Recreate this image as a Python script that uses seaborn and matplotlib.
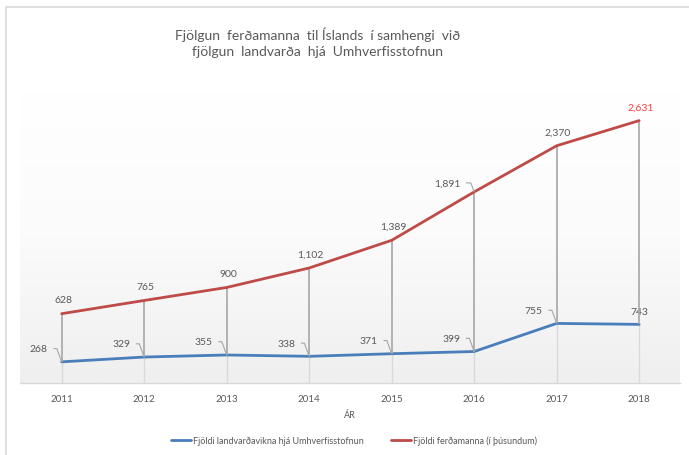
import matplotlib
matplotlib.use("Agg")
import matplotlib.pyplot as plt
import numpy as np
import seaborn as sns
from matplotlib.colors import LinearSegmentedColormap
from matplotlib.lines import Line2D
from matplotlib.patches import Rectangle

sns.set_style("white")
plt.rcParams['font.family'] = ['Lato', 'DejaVu Sans']

# Data
years = ["2011", "2012", "2013", "2014", "2015", "2016", "2017", "2018"]
rangers = [268, 329, 355, 338, 371, 399, 755, 743]            # landvarðavikur
tourists = [628, 765, 900, 1102, 1389, 1891, 2370, 2631]      # í þúsundum

blue_name = "Fjöldi landvarðavikna hjá Umhverfisstofnun"
red_name = "Fjöldi ferðamanna (í þúsundum)"

BLUE = "#4a7ebb"
RED = "#be4b48"
TXT = "#595959"

x = np.arange(len(years))

fig = plt.figure(figsize=(6.89, 4.56), dpi=100)
ax = fig.add_axes([20.4 / 689, 72 / 456, 660 / 689, 292 / 456])
ax2 = ax.twinx()

# gradient plot background
cmap = LinearSegmentedColormap.from_list("bg", ["#ffffff", "#fbfbfb", "#efefef"])
ax.imshow(np.linspace(0, 1, 256)[:, None], extent=[0, 1, 0, 1], transform=ax.transAxes,
          cmap=cmap, aspect="auto", zorder=0)

sns.lineplot(x=x, y=rangers, ax=ax, color=BLUE, lw=2.0, zorder=3)
sns.lineplot(x=x, y=tourists, ax=ax2, color=RED, lw=2.0, zorder=3)

ax.set_xlim(-0.5, len(years) - 0.5)
ax.set_ylim(0, 3700)
ax2.set_ylim(-91, 2938)

# drop lines (axis -> blue) and high-low lines (blue -> red)
ax.vlines(x, 0, rangers, color="#d9d9d9", lw=1.0, zorder=2)
pts = ax.transData.transform(np.column_stack([x, rangers]))
blue_in_red = ax2.transData.inverted().transform(pts)[:, 1]
ax2.vlines(x, blue_in_red, tourists, color="#a6a6a6", lw=1.2, zorder=2)

# axes styling
for a in (ax, ax2):
    for s in a.spines.values():
        s.set_visible(False)
    a.set_yticks([])
    a.set_ylabel("")
ax.spines["bottom"].set_visible(True)
ax.spines["bottom"].set_color("#d9d9d9")
ax.spines["bottom"].set_linewidth(1.0)
ax.set_xticks(x)
ax.set_xticklabels(years)
ax.tick_params(axis="x", length=0, pad=8, labelsize=7, labelcolor=TXT)
ax2.tick_params(axis="x", bottom=False, labelbottom=False)
ax.set_xlabel("ÁR", fontsize=6.5, color=TXT, labelpad=5)

# data labels
leader = dict(arrowstyle="-", color="#a6a6a6", lw=0.8, relpos=(1, 0.5),
              connectionstyle="angle,angleA=0,angleB=110,rad=0", shrinkA=2, shrinkB=0)
for i, v in enumerate(rangers):
    if i == len(rangers) - 1:
        ax.annotate(f"{v:,}", (x[i], v), xytext=(0, 9), textcoords="offset points",
                    ha="center", va="center", fontsize=7.5, color=TXT, zorder=5)
    else:
        ax.annotate(f"{v:,}", (x[i], v), xytext=(-10, 9.5), textcoords="offset points",
                    ha="right", va="center", fontsize=7.5, color=TXT, arrowprops=leader, zorder=5)

for i, v in enumerate(tourists):
    if i == 5:
        ax2.annotate(f"{v:,}", (x[i], v), xytext=(-10, 6.5), textcoords="offset points",
                     ha="right", va="center", fontsize=7.5, color=TXT, arrowprops=leader, zorder=5)
    else:
        col = "#ff3b3b" if i == len(tourists) - 1 else TXT
        ax2.annotate(f"{v:,}", (x[i], v), xytext=(1, 10), textcoords="offset points",
                     ha="center", va="center", fontsize=7.5, color=col, zorder=5)

# title
fig.text(318 / 689, 1 - 43 / 456,
         "Fjölgun  ferðamanna  til Íslands  í samhengi  við\nfjölgun  landvarða  hjá  Umhverfisstofnun",
         ha="center", va="center", fontsize=10, color=TXT, linespacing=1.35)

# legend
handles = [Line2D([], [], color=BLUE, lw=2.0), Line2D([], [], color=RED, lw=2.0)]
leg = fig.legend(handles, [blue_name, red_name], loc="center",
                 bbox_to_anchor=(354 / 689, 1 - 441 / 456), ncol=2, frameon=False,
                 fontsize=6.5, handlelength=2.2, handletextpad=0.2, columnspacing=3.0)
for t in leg.get_texts():
    t.set_color(TXT)

# chart border
fig.add_artist(Rectangle((6 / 689, -0.1), 1.0, 1.1 - 8 / 456, transform=fig.transFigure,
                         fill=False, ec="#d9d9d9", lw=1.2))

fig.savefig("out.png", dpi=100)
